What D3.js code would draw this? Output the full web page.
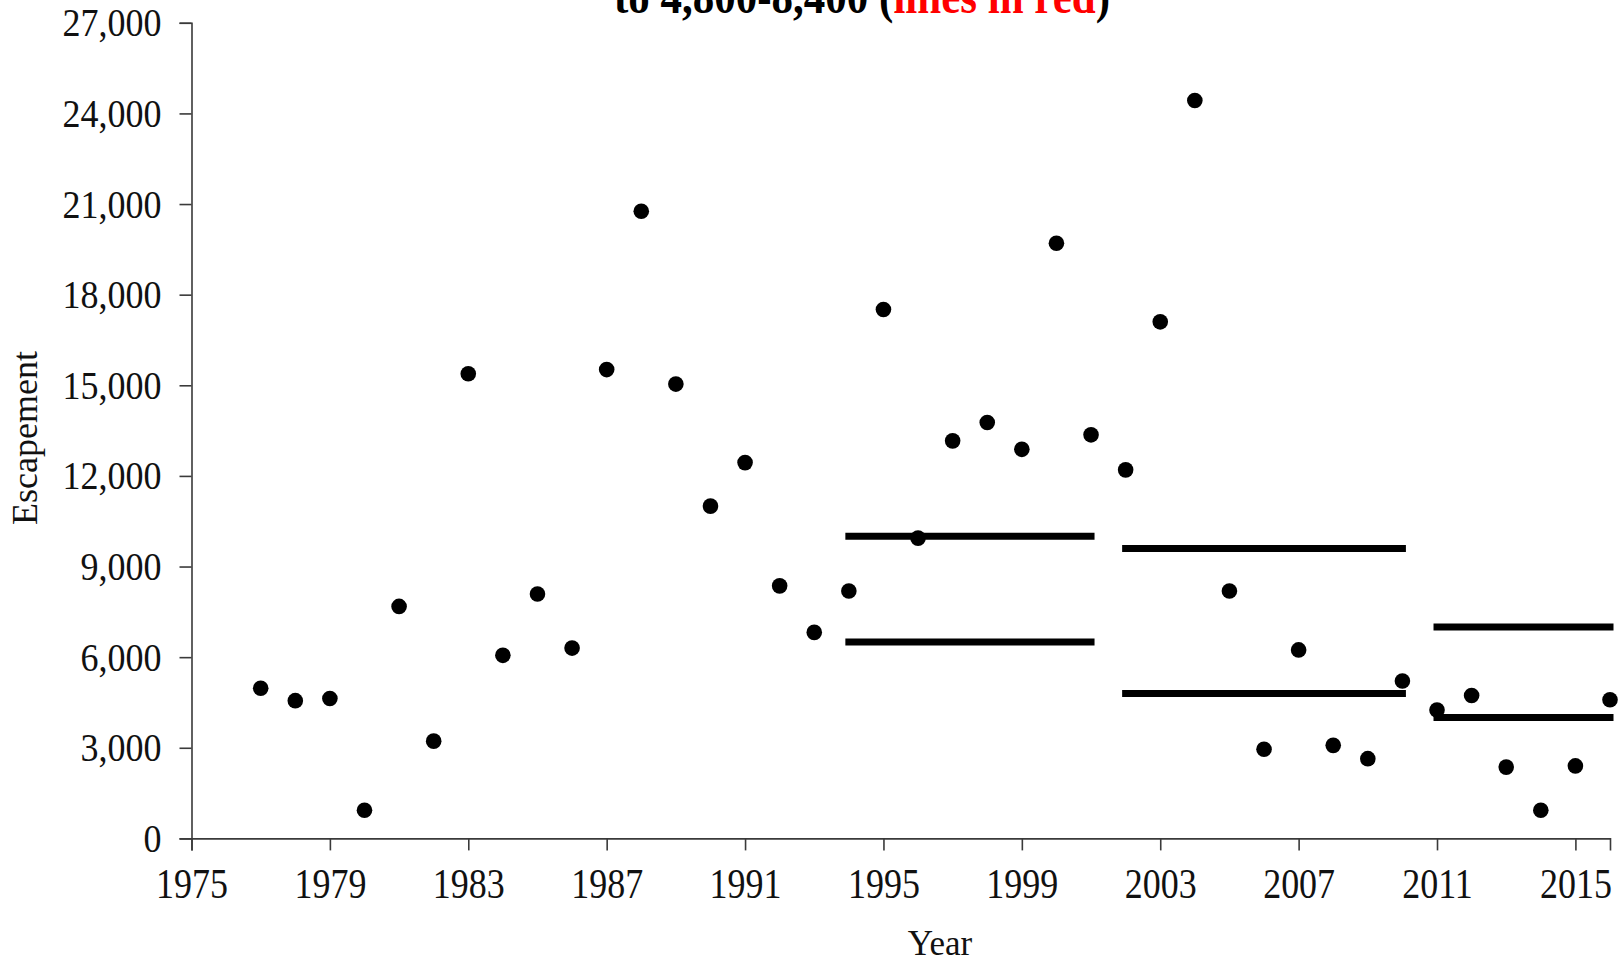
<!DOCTYPE html>
<html>
<head>
<meta charset="utf-8">
<script src="https://cdn.jsdelivr.net/npm/d3@7"></script>
<style>
  html, body { margin: 0; padding: 0; background: #fff; }
  svg text { font-family: "Liberation Serif", "Times New Roman", serif; }
</style>
</head>
<body>
<div id="chart"></div>
<script>
// Escapement by year
var years = [1977, 1978, 1979, 1980, 1981, 1982, 1983, 1984, 1985, 1986,
             1987, 1988, 1989, 1990, 1991, 1992, 1993, 1994, 1995, 1996,
             1997, 1998, 1999, 2000, 2001, 2002, 2003, 2004, 2005, 2006,
             2007, 2008, 2009, 2010, 2011, 2012, 2013, 2014, 2015, 2016];
var escapement = [4970, 4560, 4630, 930, 7680, 3220, 15380, 6060, 8090, 6300,
                  15520, 20760, 15040, 11000, 12440, 8360, 6820, 8190, 17510, 9940,
                  13160, 13770, 12880, 19700, 13360, 12200, 17100, 24430, 8190, 2950,
                  6240, 3080, 2640, 5210, 4250, 4730, 2360, 930, 2400, 4590];

// Escapement goal ranges (lower / upper bounds per period)
var goalStart = [1994, 2002, 2011];
var goalEnd = [2001, 2010, 2016];
var goalLower = [6500, 4800, 4000];
var goalUpper = [10000, 9600, 7000];

var xTicks = [1975, 1979, 1983, 1987, 1991, 1995, 1999, 2003, 2007, 2011, 2015];
var yTicks = [0, 3000, 6000, 9000, 12000, 15000, 18000, 21000, 24000, 27000];

var W = 1623, H = 962;
var svg = d3.select('#chart').append('svg').attr('width', W).attr('height', H);

var x = d3.scaleLinear().domain([1975, 2016]).range([191.5, 1610]);
var y = d3.scaleLinear().domain([0, 27000]).range([838.4, 22.8]);
var axisColor = '#3a3a3a';
var stretch = 'scale(1,1.15)';

// Y axis
var yAxis = svg.append('g').attr('transform', 'translate(' + x(1975) + ',0)')
  .call(d3.axisLeft(y).tickValues(yTicks).tickFormat(d3.format(',')).tickSize(12).tickPadding(18));
yAxis.select('.domain').attr('stroke', axisColor).attr('stroke-width', 1.6);
yAxis.selectAll('line').attr('stroke', axisColor).attr('stroke-width', 1.6);
yAxis.selectAll('text').attr('fill', '#111').attr('font-size', '36px')
  .attr('font-family', '"Liberation Serif", serif')
  .attr('dy', 0).attr('transform', 'translate(0,13) scale(1,1.1)');

// X axis
var xAxis = svg.append('g').attr('transform', 'translate(0,' + y(0) + ')')
  .call(d3.axisBottom(x).tickValues(xTicks).tickFormat(d3.format('d')).tickSize(12).tickPadding(14));
xAxis.select('.domain').attr('stroke', axisColor).attr('stroke-width', 1.6);
xAxis.selectAll('line').attr('stroke', axisColor).attr('stroke-width', 1.6);
xAxis.selectAll('text').attr('fill', '#111').attr('font-size', '36px')
  .attr('font-family', '"Liberation Serif", serif')
  .attr('y', 0).attr('dy', 0).attr('transform', 'translate(0,60) ' + stretch);

// Goal range lines
var goals = goalStart.map(function(s, i) {
  return { start: s, end: goalEnd[i], lower: goalLower[i], upper: goalUpper[i] };
});
['lower', 'upper'].forEach(function(k) {
  svg.selectAll('.goal-' + k).data(goals).enter().append('line')
    .attr('x1', function(d) { return x(d.start); })
    .attr('x2', function(d) { return x(d.end); })
    .attr('y1', function(d) { return y(d[k]); })
    .attr('y2', function(d) { return y(d[k]); })
    .attr('stroke', '#000').attr('stroke-width', 7)
    .attr('stroke-linecap', 'square');
});

// Points
svg.selectAll('.pt').data(years).enter().append('circle')
  .attr('cx', function(d) { return x(d); })
  .attr('cy', function(d, i) { return y(escapement[i]); })
  .attr('r', 7.8).attr('fill', '#000');

// Axis titles
svg.append('text').attr('transform', 'translate(37,438) rotate(-90)')
  .attr('text-anchor', 'middle').attr('font-size', '36px').attr('fill', '#111')
  .text('Escapement');
svg.append('text').attr('transform', 'translate(940,955) scale(1,1.05)')
  .attr('text-anchor', 'middle').attr('font-size', '35px').attr('fill', '#111')
  .text('Year');

// Title (second line; the first line lies above the picture)
var title = svg.append('text').attr('transform', 'translate(862,13) scale(1,1.15)')
  .attr('text-anchor', 'middle').attr('font-size', '43px').attr('font-weight', 'bold')
  .attr('fill', '#000');
title.append('tspan').text('to 4,800-8,400 (');
title.append('tspan').attr('fill', '#ff0000').text('lines in red');
title.append('tspan').text(')');
</script>
</body>
</html>
